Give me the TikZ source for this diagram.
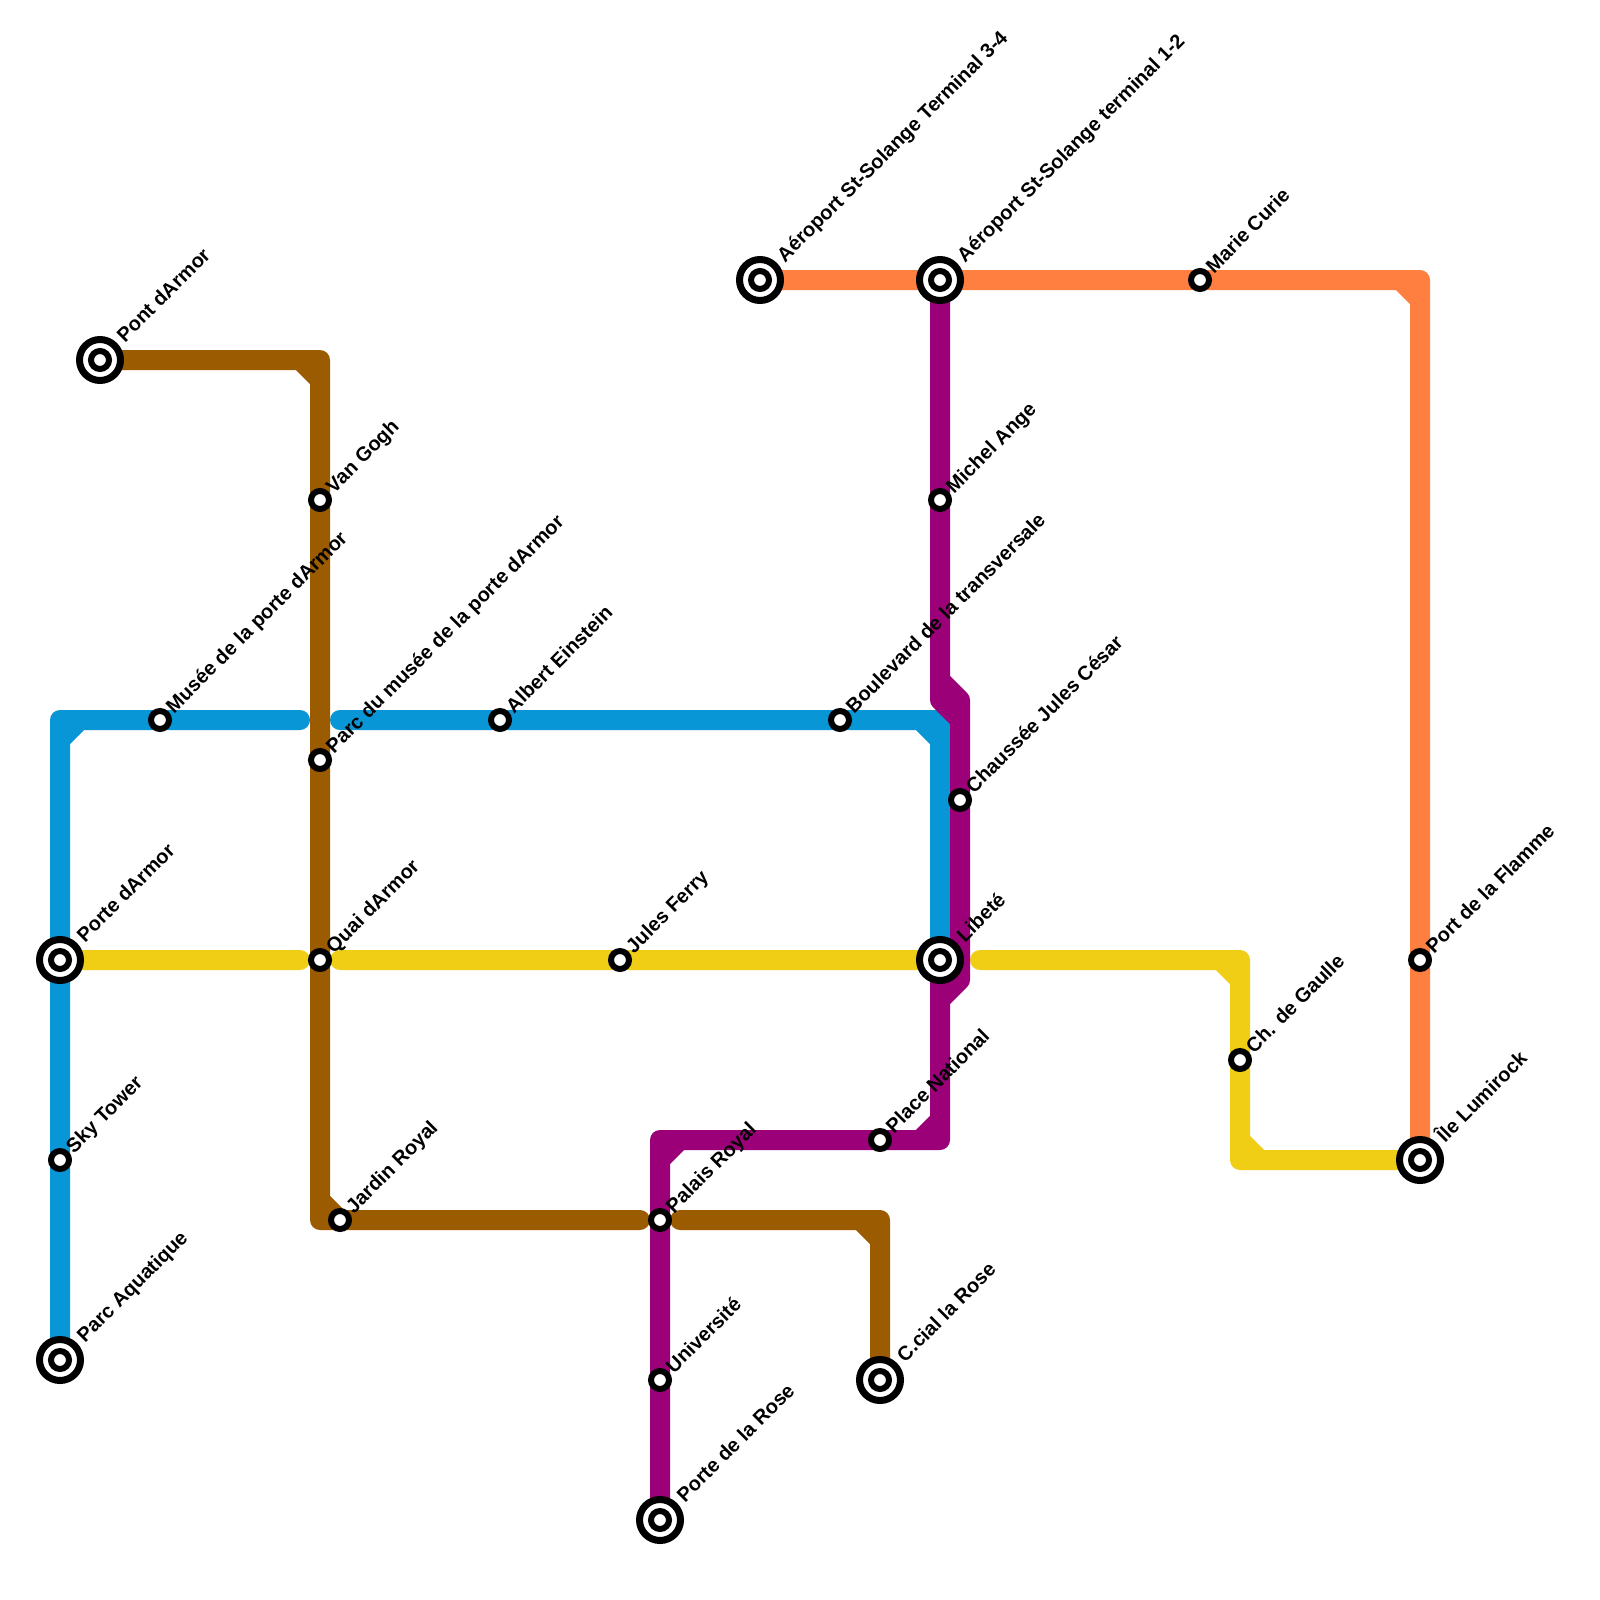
\documentclass[tikz,border=0pt]{standalone}
\usepackage{fontspec}
\setmainfont{Liberation Sans}[BoldFont={* Bold}]
\definecolor{lblue}{HTML}{0896D7}
\definecolor{lbrown}{HTML}{9B5B00}
\definecolor{lorange}{HTML}{FF7F41}
\definecolor{lyellow}{HTML}{F0CE15}
\definecolor{lpurple}{HTML}{9B0079}
\tikzset{
  lineseg/.style={line width=20pt,line cap=round,line join=round},
  stop/.style={circle,draw=black,fill=white,line width=6pt,minimum size=18pt,inner sep=0pt,outer sep=0pt},
  hubstop/.style={circle,draw=black,fill=white,line width=7pt,minimum size=41pt,inner sep=0pt,outer sep=0pt},
  hubcore/.style={circle,draw=black,fill=white,line width=6pt,minimum size=18pt,inner sep=0pt,outer sep=0pt},
  lab/.style={anchor=base west,rotate=45,inner sep=0pt,outer sep=0pt,font=\fontsize{20}{20}\selectfont\bfseries,text=black},
}
\newcommand{\smallst}[4]{\node[stop] (#1) at (#2,#3) {};\node[lab] (#1t) at (#2+14,#3-6) {#4};}
\newcommand{\bigdraw}[4]{\node[hubstop] (#1h) at (#2,#3) {};\node[hubcore] (#1c) at (#2,#3) {};\node[lab] (#1t) at (#2+25,#3-17) {#4};}
\begin{document}
\begin{tikzpicture}[x=1pt,y=-1pt]
\useasboundingbox (0,0) rectangle (1600,1600);
\fill[white] (0,0) rectangle (1600,1600);
% junction and end coordinates
\coordinate (bA) at (60,1360);\coordinate (bC) at (60,720);\coordinate (bE) at (300,720);
\coordinate (bS) at (340,720);\coordinate (bK) at (940,720);\coordinate (bZ) at (940,960);
\coordinate (bd1) at (60,740);\coordinate (bd2) at (80,720);\coordinate (bd3) at (920,720);\coordinate (bd4) at (940,740);
\coordinate (yA) at (60,960);\coordinate (yB) at (300,960);\coordinate (yC) at (340,960);\coordinate (yD) at (940,960);
\coordinate (yE) at (980,960);\coordinate (yF) at (1240,960);\coordinate (yG) at (1240,1160);\coordinate (yH) at (1420,1160);
\coordinate (yd1) at (1220,960);\coordinate (yd2) at (1240,980);\coordinate (yd3) at (1240,1140);\coordinate (yd4) at (1260,1160);
\coordinate (nA) at (100,360);\coordinate (nB) at (320,360);\coordinate (nC) at (320,1220);\coordinate (nD) at (640,1220);
\coordinate (nE) at (680,1220);\coordinate (nF) at (880,1220);\coordinate (nG) at (880,1380);
\coordinate (nd1) at (300,360);\coordinate (nd2) at (320,380);\coordinate (nd3) at (320,1200);\coordinate (nd4) at (340,1220);
\coordinate (nd5) at (860,1220);\coordinate (nd6) at (880,1240);
\coordinate (oA) at (760,280);\coordinate (oB) at (1420,280);\coordinate (oC) at (1420,1160);
\coordinate (od1) at (1400,280);\coordinate (od2) at (1420,300);
\coordinate (pA) at (940,280);\coordinate (pB) at (940,700);\coordinate (pC) at (960,720);\coordinate (pD) at (960,980);
\coordinate (pE) at (940,1000);\coordinate (pF) at (940,1140);\coordinate (pG) at (660,1140);\coordinate (pH) at (660,1520);
\coordinate (pd1) at (940,680);\coordinate (pd2) at (960,700);\coordinate (pd3) at (920,1140);\coordinate (pd4) at (940,1120);
\coordinate (pd5) at (660,1160);\coordinate (pd6) at (680,1140);
% lines
\draw[lineseg,lblue] (bA)--(bC)--(bE) (bd1)--(bd2) (bS)--(bK)--(bZ) (bd3)--(bd4);
\draw[lineseg,lorange] (oA)--(oB)--(oC) (od1)--(od2);
\draw[lineseg,lbrown] (nA)--(nB)--(nC)--(nD) (nd1)--(nd2) (nd3)--(nd4) (nE)--(nF)--(nG) (nd5)--(nd6);
\draw[lineseg,lyellow] (yA)--(yB) (yC)--(yD) (yE)--(yF)--(yG)--(yH) (yd1)--(yd2) (yd3)--(yd4);
\draw[lineseg,lpurple] (pA)--(pB)--(pC)--(pD)--(pE)--(pF)--(pG)--(pH) (pd1)--(pd2)--(pC) (bZ)--(pE) (pd3)--(pd4) (pd5)--(pd6);
% stations
\bigdraw{pontd}{100}{360}{Pont dArmor}
\bigdraw{portd}{60}{960}{Porte dArmor}
\bigdraw{aqua}{60}{1360}{Parc Aquatique}
\bigdraw{t34}{760}{280}{Aéroport St-Solange Terminal 3-4}
\bigdraw{t12}{940}{280}{Aéroport St-Solange terminal 1-2}
\bigdraw{libe}{940}{960}{Libeté}
\bigdraw{cial}{880}{1380}{C.cial la Rose}
\bigdraw{rose}{660}{1520}{Porte de la Rose}
\bigdraw{lumi}{1420}{1160}{Île Lumirock}
\smallst{gogh}{320}{500}{Van Gogh}
\smallst{musee}{160}{720}{Musée de la porte dArmor}
\smallst{pmusee}{320}{760}{Parc du musée de la porte dArmor}
\smallst{quai}{320}{960}{Quai dArmor}
\smallst{jardin}{340}{1220}{Jardin Royal}
\smallst{sky}{60}{1160}{Sky Tower}
\smallst{albert}{500}{720}{Albert Einstein}
\smallst{ferry}{620}{960}{Jules Ferry}
\smallst{palais}{660}{1220}{Palais Royal}
\smallst{univ}{660}{1380}{Université}
\smallst{natio}{880}{1140}{Place National}
\smallst{boul}{840}{720}{Boulevard de la transversale}
\smallst{ange}{940}{500}{Michel Ange}
\smallst{cesar}{960}{800}{Chaussée Jules César}
\smallst{curie}{1200}{280}{Marie Curie}
\smallst{gaulle}{1240}{1060}{Ch. de Gaulle}
\smallst{flamme}{1420}{960}{Port de la Flamme}
\end{tikzpicture}
\end{document}
